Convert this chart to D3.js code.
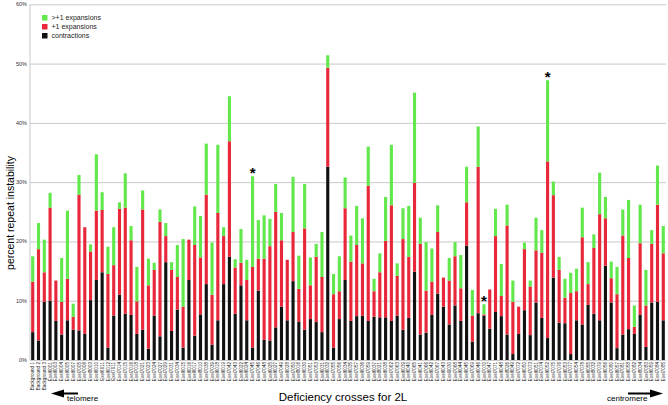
<!DOCTYPE html>
<html>
<head>
<meta charset="utf-8">
<script src="https://cdn.jsdelivr.net/npm/d3@7"></script>
<style>
  body { margin: 0; background: #fff; }
  svg { display: block; font-family: "Liberation Sans", Arial, sans-serif; }
  .grid line { stroke: #c9c9c9; stroke-width: 1; }
  .grid path { display: none; }
  .xlab { font-size: 4.6px; fill: #222; }
  .ytick { font-size: 5.5px; fill: #333; }
</style>
</head>
<body>
<div id="chart"></div>
<script>
// crosses along the x axis
var crosses = ["Background 1", "Background 2", "Background 3",
  "Exel6001", "Exel6003", "Exel6004", "Exel6005", "Exel6007", "Exel7005", "Exel7006", "Exel8003",
  "Exel6010", "Exel6011", "Exel6012", "Exel7011", "Exel7014", "Exel7015", "Exel7016", "Exel7018",
  "Exel7021", "Exel7023", "Exel7024", "Exel7027", "Exel7029", "Exel7031", "Exel7034", "Exel6015",
  "Exel6016", "Exel6017", "Exel8010", "Exel7038", "Exel7039", "Exel6018", "Exel6019", "Exel7042",
  "Exel7043", "Exel6022", "Exel6024", "Exel7045", "Exel7046", "Exel7048", "Exel6025", "Exel6027",
  "Exel7049", "Exel6028", "Exel7050", "Exel8016", "Exel6030", "Exel7051", "Exel7053", "Exel6031",
  "Exel6032", "Exel7055", "Exel7056", "Exel6034", "Exel6035", "Exel7057", "Exel6036", "Exel7059",
  "Exel6037", "Exel8021", "Exel6038", "Exel7062", "Exel7063", "Exel6039", "Exel6040", "Exel7065",
  "Exel6041", "Exel7066", "Exel6042", "Exel7067", "Exel6043", "Exel9030", "Exel7068", "Exel6044",
  "Exel6045", "Exel7069", "Exel6046", "Exel7070", "Exel6047", "Exel7071", "Exel6048", "Exel8026",
  "Exel6049", "Exel7072", "Exel6050", "Exel7073", "Exel6051", "Exel7074", "Exel6052", "Exel7075",
  "Exel7076", "Exel6053", "Exel7077", "Exel6054", "Exel7078", "Exel6055", "Exel8032", "Exel7079",
  "Exel6056", "Exel7080", "Exel6057", "Exel7081", "Exel6058", "Exel7082", "Exel8034", "Exel7083",
  "Exel6059", "Exel7084", "Exel7085"];

// percent repeat instability
var contractions = [4.7, 3.3, 9.8, 10.0, 6.6, 4.3, 6.7, 5.1, 5.0, 4.4,
  10.1, 13.5, 14.8, 2.1, 7.5, 11.0, 7.8, 7.6, 4.4, 5.1,
  1.9, 7.5, 4.0, 16.5, 4.9, 8.5, 2.1, 13.5, 4.1, 7.7,
  12.8, 2.6, 6.7, 12.8, 17.4, 7.8, 12.6, 6.7, 2.1, 11.7,
  3.4, 3.3, 5.5, 9.0, 6.7, 13.3, 6.5, 5.1, 6.9, 6.4,
  4.7, 32.6, 2.1, 6.9, 13.5, 6.6, 7.4, 7.5, 6.6, 7.3,
  7.2, 7.2, 6.6, 7.5, 5.1, 7.1, 14.9, 4.3, 4.6, 7.6,
  11.2, 9.0, 6.0, 9.2, 6.6, 19.3, 3.1, 7.9, 7.5, 5.3,
  8.1, 7.4, 4.3, 1.0, 4.4, 8.4, 4.2, 9.7, 7.1, 3.7,
  13.9, 6.3, 6.2, 1.0, 6.7, 6.0, 9.3, 7.8, 6.7, 15.9,
  9.7, 2.0, 4.3, 5.2, 4.4, 7.6, 2.2, 9.7, 9.8, 6.7];
var plusOne = [8.5, 15.4, 5.0, 15.7, 6.8, 5.5, 7.0, 2.2, 22.9, 18.0,
  8.2, 11.7, 10.5, 12.4, 8.5, 14.5, 17.9, 12.6, 5.5, 20.3,
  10.7, 7.7, 19.3, 4.4, 10.3, 5.5, 6.9, 6.8, 15.3, 9.6,
  15.1, 8.4, 18.1, 8.1, 19.5, 7.8, 3.8, 6.8, 13.6, 5.4,
  13.7, 15.9, 19.5, 11.2, 10.2, 8.3, 5.5, 17.1, 5.7, 11.0,
  9.3, 16.7, 9.0, 4.7, 12.1, 10.0, 12.0, 8.8, 22.8, 4.3,
  7.6, 12.9, 19.5, 6.7, 15.3, 10.3, 15.0, 15.3, 7.1, 5.6,
  10.4, 4.9, 7.4, 8.3, 5.5, 7.3, 4.4, 24.7, 0.2, 6.6,
  12.8, 3.4, 18.4, 8.8, 4.6, 10.3, 8.2, 8.8, 11.0, 29.8,
  13.9, 8.9, 4.3, 10.3, 4.9, 14.7, 3.5, 11.1, 17.9, 8.0,
  4.1, 9.1, 16.7, 12.0, 1.2, 12.1, 7.0, 9.9, 16.4, 11.3];
var moreThanOne = [4.3, 4.4, 5.5, 2.5, 0, 7.4, 11.5, 2.2, 3.3, 0,
  1.2, 9.5, 3.0, 4.6, 6.4, 1.1, 5.8, 2.4, 5.8, 3.2,
  4.5, 1.2, 2.1, 2.2, 1.3, 5.4, 11.4, 0, 6.5, 7.0,
  8.6, 8.8, 11.5, 1.5, 7.6, 1.4, 5.7, 3.4, 15.3, 6.5,
  7.3, 4.6, 4.7, 4.6, 0, 9.3, 5.6, 7.5, 4.7, 2.2,
  7.6, 2.1, 3.4, 5.9, 5.2, 4.4, 6.6, 7.6, 6.6, 2.1,
  3.2, 7.4, 10.2, 2.1, 5.2, 8.6, 15.2, 4.4, 8.2, 5.6,
  4.5, 0, 3.8, 2.4, 5.6, 6.0, 4.3, 6.8, 1.7, 0,
  4.6, 5.4, 3.5, 3.6, 0, 1.1, 1.0, 5.5, 3.8, 13.7,
  2.3, 2.2, 3.2, 3.4, 3.8, 5.0, 3.7, 2.3, 7.0, 3.6,
  2.8, 4.6, 4.4, 9.8, 3.6, 6.5, 6.0, 2.3, 6.6, 4.6];

// bars marked with an asterisk
var starred = ["Exel7045", "Exel7070", "Exel6052"];

var yTicks = [0, 10, 20, 30, 40, 50, 60];

var seriesKeys = ["contractions", "plusOne", "moreThanOne"];
var seriesNames = {contractions: "contractions", plusOne: "+1 expansions", moreThanOne: ">+1 expansions"};
var colors = {contractions: "#111111", plusOne: "#e8283a", moreThanOne: "#62e84c"};

var W = 668, H = 405;
var plot = {left: 30, right: 666, top: 4.3, bottom: 360};

var rows = crosses.map(function(c, i) {
    return {cross: c, contractions: contractions[i], plusOne: plusOne[i], moreThanOne: moreThanOne[i]};
});

var x = d3.scaleBand().domain(crosses).range([plot.left, plot.right]).paddingInner(0.46).paddingOuter(0.2);
var y = d3.scaleLinear().domain([0, 60]).range([plot.bottom, plot.top]);

var svg = d3.select("#chart").append("svg")
    .attr("width", W)
    .attr("height", H);

// gridlines
svg.append("g")
    .attr("class", "grid")
    .attr("transform", "translate(" + plot.left + ",0)")
    .call(d3.axisLeft(y).tickValues(yTicks).tickSize(-(plot.right - plot.left)).tickFormat(""));

svg.append("line")
    .attr("x1", plot.left).attr("x2", plot.left)
    .attr("y1", plot.top).attr("y2", plot.bottom)
    .attr("stroke", "#c9c9c9");

// y tick labels
svg.selectAll(".ytick")
    .data(yTicks)
    .enter().append("text")
    .attr("class", "ytick")
    .attr("x", plot.left - 3)
    .attr("y", function(d) { return y(d) + 2; })
    .attr("text-anchor", "end")
    .text(function(d) { return d + "%"; });

// stacked bars
var stack = d3.stack().keys(seriesKeys);
var layers = stack(rows);

svg.selectAll(".layer")
    .data(layers)
    .enter().append("g")
    .attr("class", "layer")
    .attr("fill", function(d) { return colors[d.key]; })
    .selectAll("rect")
    .data(function(d) { return d; })
    .enter().append("rect")
    .attr("x", function(d) { return x(d.data.cross); })
    .attr("width", x.bandwidth())
    .attr("y", function(d) { return y(d[1]); })
    .attr("height", function(d) { return y(d[0]) - y(d[1]); });

// asterisks
svg.selectAll(".star")
    .data(rows.filter(function(r) { return starred.indexOf(r.cross) >= 0; }))
    .enter().append("text")
    .attr("x", function(d) { return x(d.cross) + x.bandwidth() / 2; })
    .attr("y", function(d) { return y(d.contractions + d.plusOne + d.moreThanOne) + 2; })
    .attr("text-anchor", "middle")
    .style("font-size", "15px")
    .style("font-weight", "bold")
    .text("*");

// cross labels, rotated
svg.selectAll(".xlab")
    .data(crosses)
    .enter().append("text")
    .attr("class", "xlab")
    .attr("transform", function(d) {
        return "translate(" + (x(d) + x.bandwidth() / 2 + 1.6) + "," + (plot.bottom + 2) + ") rotate(-90)";
    })
    .attr("text-anchor", "end")
    .text(function(d) { return d; });

// legend
var legend = svg.append("g").attr("transform", "translate(42,15)");
seriesKeys.slice().reverse().forEach(function(k, i) {
    legend.append("rect")
        .attr("x", 0).attr("y", i * 9)
        .attr("width", 5.5).attr("height", 5.5)
        .attr("fill", colors[k]);
    legend.append("text")
        .attr("x", 9.5).attr("y", i * 9 + 5.2)
        .style("font-size", "7px")
        .style("fill", "#222")
        .text(seriesNames[k]);
});

// axis titles
svg.append("text")
    .attr("x", 343).attr("y", 401)
    .attr("text-anchor", "middle")
    .style("font-size", "11.5px")
    .text("Deficiency crosses for 2L");

svg.append("text")
    .attr("transform", "translate(14,213) rotate(-90)")
    .attr("text-anchor", "middle")
    .style("font-size", "10.5px")
    .text("percent repeat instability");

// telomere / centromere arrows
function arrow(x1, x2, yy) {
    var dir = x2 > x1 ? 1 : -1;
    svg.append("line")
        .attr("x1", x1).attr("x2", x2 - dir * 10)
        .attr("y1", yy).attr("y2", yy)
        .attr("stroke", "#000").attr("stroke-width", 2);
    svg.append("path")
        .attr("d", "M" + x2 + "," + yy + "L" + (x2 - dir * 13) + "," + (yy - 4) + "L" + (x2 - dir * 13) + "," + (yy + 4) + "Z")
        .attr("fill", "#000");
}
arrow(78, 51, 393.5);
arrow(628, 663, 393.5);

svg.append("text")
    .attr("x", 67).attr("y", 401)
    .style("font-size", "8px")
    .text("telomere");

svg.append("text")
    .attr("x", 607).attr("y", 401)
    .style("font-size", "8px")
    .text("centromere");
</script>
</body>
</html>
